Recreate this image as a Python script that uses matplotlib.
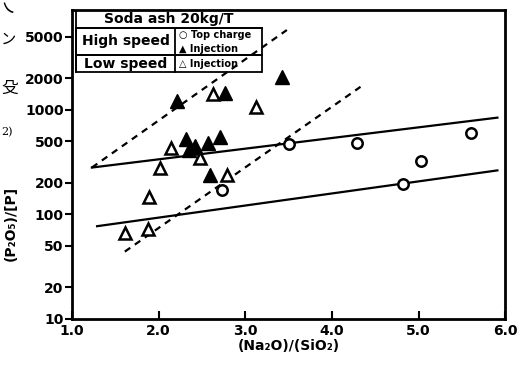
import matplotlib.pyplot as plt
from matplotlib.patches import Rectangle

# top charge, high speed (open circles)
top_x = [2.73, 3.51, 4.29, 4.82, 5.03, 5.61]
top_y = [170, 474, 485, 197, 320, 604]
# injection, high speed (filled triangles)
hi_x = [2.21, 2.77, 3.42, 2.32, 2.35, 2.42, 2.57, 2.71, 2.59]
hi_y = [1220, 1450, 2060, 520, 410, 450, 484, 553, 240]
# injection, low speed (open triangles)
lo_x = [1.61, 1.88, 1.89, 2.02, 2.14, 2.48, 2.63, 2.79, 3.12]
lo_y = [66, 72, 148, 280, 435, 349, 1420, 240, 1070]

# trend lines (two end points each)
solid1_x = [1.23, 5.91]
solid1_y = [280, 840]
solid2_x = [1.29, 5.91]
solid2_y = [77, 263]
dash1_x = [1.23, 3.48]
dash1_y = [280, 5780]
dash2_x = [1.61, 4.33]
dash2_y = [44, 1655]

xticks = [1.0, 2.0, 3.0, 4.0, 5.0, 6.0]
xticklabels = ['1.0', '2.0', '3.0', '4.0', '5.0', '6.0']
yticks = [10, 20, 50, 100, 200, 500, 1000, 2000, 5000]

plt.rcParams['font.weight'] = 'bold'
fig = plt.figure(figsize=(5.29, 3.67), dpi=100)
ax = fig.add_axes([0.136, 0.131, 0.819, 0.842])
ax.set_yscale('log')

ax.plot(solid1_x, solid1_y, color='black', lw=1.6)
ax.plot(solid2_x, solid2_y, color='black', lw=1.6)
ax.plot(dash1_x, dash1_y, color='black', lw=1.6, ls=(0, (3, 2.5)))
ax.plot(dash2_x, dash2_y, color='black', lw=1.6, ls=(0, (3, 2.5)))

ax.plot(top_x, top_y, 'o', ms=7.5, mfc='white', mec='black', mew=1.8)
ax.plot(hi_x, hi_y, '^', ms=10, mfc='black', mec='black')
ax.plot(lo_x, lo_y, '^', ms=9, mfc='white', mec='black', mew=1.8)

ax.set_xlim(1.0, 6.0)
ax.set_ylim(10, 9000)
ax.set_xticks(xticks)
ax.set_xticklabels(xticklabels, fontsize=10, fontweight='bold')
ax.set_yticks(yticks)
ax.set_yticklabels([str(v) for v in yticks], fontsize=10, fontweight='bold')
ax.minorticks_off()
ax.tick_params(axis='x', direction='in', length=6, width=1.5)
ax.tick_params(axis='y', direction='out', length=5, width=1.5, pad=1)
for s in ax.spines.values():
    s.set_linewidth(2)

ax.set_xlabel('(Na₂O)/(SiO₂)', fontsize=10, fontweight='bold', labelpad=1)
ax.set_ylabel('(P₂O₅)/[P]', fontsize=10, fontweight='bold')
ax.yaxis.set_label_coords(-0.125, 0.31)

# legend table in the upper left corner
tr = ax.transAxes
x0, xm, x1 = 0.009, 0.238, 0.439
ax.plot([x0, x0], [1.0, 0.799], color='black', lw=1.3, transform=tr)
ax.plot([x0, x1], [0.942, 0.942], color='black', lw=1.3, transform=tr)
ax.add_patch(Rectangle((x0, 0.854), x1 - x0, 0.942 - 0.854, fill=False, lw=1.3, transform=tr))
ax.add_patch(Rectangle((x0, 0.799), x1 - x0, 0.854 - 0.799, fill=False, lw=1.3, transform=tr))
ax.plot([xm, xm], [0.942, 0.799], color='black', lw=1.3, transform=tr)
ax.text((x0 + x1) / 2, 0.971, 'Soda ash 20kg/T', ha='center', va='center', fontsize=10, fontweight='bold', transform=tr)
ax.text((x0 + xm) / 2, 0.898, 'High speed', ha='center', va='center', fontsize=10, fontweight='bold', transform=tr)
ax.text((x0 + xm) / 2, 0.826, 'Low speed', ha='center', va='center', fontsize=10, fontweight='bold', transform=tr)
ax.text(xm + 0.008, 0.918, '○ Top charge', ha='left', va='center', fontsize=7, fontweight='bold', transform=tr)
ax.text(xm + 0.008, 0.875, '▲ Injection', ha='left', va='center', fontsize=7, fontweight='bold', transform=tr)
ax.text(xm + 0.008, 0.826, '△ Injection', ha='left', va='center', fontsize=7, fontweight='bold', transform=tr)

# cut-off text from the neighbouring page
cjk = ['Noto Sans CJK JP', 'DejaVu Sans']
fig.text(0.003, 0.995, '乀', fontsize=9, family=cjk, va='top', ha='left')
fig.text(0.002, 0.893, 'ン', fontsize=11, family=cjk, fontweight='normal', va='center', ha='left')
fig.text(0.002, 0.76, '殳', fontsize=12, family=cjk, fontweight='normal', va='center', ha='left')
fig.text(0.002, 0.64, '2)', fontsize=8, family=['DejaVu Serif'], fontweight='normal', va='center', ha='left')

fig.savefig('out.png', dpi=100)
